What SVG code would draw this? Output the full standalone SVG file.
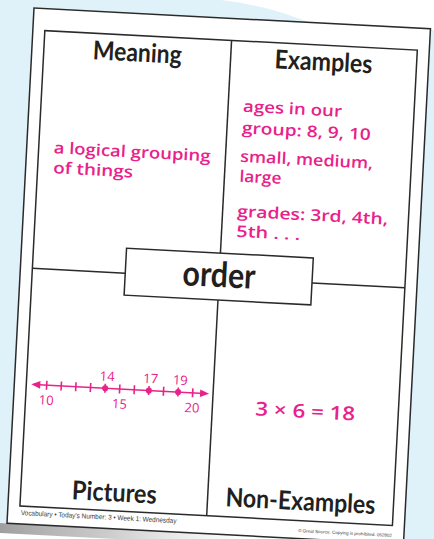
<svg xmlns="http://www.w3.org/2000/svg" width="434" height="539" viewBox="0 0 434 539">
<defs>
<style>
.hd{font-family:Lato,"Open Sans","Liberation Sans",sans-serif;font-weight:700;fill:#231f20;text-anchor:middle}
.pk{font-family:"Open Sans","DejaVu Sans",sans-serif;font-weight:600;fill:#e8218b}
.num{font-family:"Open Sans","DejaVu Sans",sans-serif;font-weight:500;fill:#e8218b;text-anchor:middle;font-size:13px}
.ln{stroke:#2a2a2a;stroke-width:1.5;fill:none}
.nl{stroke:#e8218b;stroke-width:1.6;fill:none}
.ft{font-family:"Liberation Sans",Arial,sans-serif;fill:#3a3a3a}
</style>
<linearGradient id="sh" x1="0" y1="0" x2="1" y2="0">
<stop offset="0" stop-color="#8e8e8e"/>
<stop offset="0.5" stop-color="#b5b5b5" stop-opacity="0.7"/>
<stop offset="1" stop-color="#cfcfcf" stop-opacity="0"/>
</linearGradient>
</defs>
<rect width="434" height="539" fill="#dff1f9"/>
<path d="M221,0 C255,4 287,13 313,24 L434,30 L434,0 Z" fill="#ffffff"/>
<g transform="translate(34,8) rotate(3)">
  <rect x="-40" y="516" width="437" height="60" fill="#ffffff"/>
  <rect x="-40" y="516" width="280" height="10" fill="url(#sh)"/>
  <rect id="page" x="0" y="0" width="397" height="516" fill="#ffffff" stroke="#2a2a2a" stroke-width="1.5"/>
  <rect id="frame" x="12" y="22" width="373" height="476" class="ln"/>
  <g id="connectors" class="ln">
    <line x1="199" y1="22" x2="199" y2="235"/>
    <line x1="199" y1="282" x2="199" y2="498"/>
    <line x1="12" y1="260" x2="105" y2="260"/>
    <line x1="292" y1="260" x2="385" y2="260"/>
  </g>
  <g id="meaning">
    <text class="hd" x="105.5" y="48" font-size="26" textLength="89" lengthAdjust="spacingAndGlyphs">Meaning</text>
    <text class="pk" x="27" y="144" font-size="16" textLength="157" lengthAdjust="spacingAndGlyphs">a logical grouping</text>
    <text class="pk" x="27.5" y="164" font-size="16" textLength="80" lengthAdjust="spacingAndGlyphs">of things</text>
  </g>
  <g id="examples">
    <text class="hd" x="292" y="47.5" font-size="26" textLength="98" lengthAdjust="spacingAndGlyphs">Examples</text>
    <text class="pk" x="214" y="92.6" font-size="16" textLength="99" lengthAdjust="spacingAndGlyphs">ages in our</text>
    <text class="pk" x="214" y="114.3" font-size="16" textLength="129" lengthAdjust="spacingAndGlyphs">group: 8, 9, 10</text>
    <text class="pk" x="213.7" y="142.7" font-size="16" textLength="133" lengthAdjust="spacingAndGlyphs">small, medium,</text>
    <text class="pk" x="214" y="162.7" font-size="16" textLength="42" lengthAdjust="spacingAndGlyphs">large</text>
    <text class="pk" x="213.6" y="197.8" font-size="16" textLength="151" lengthAdjust="spacingAndGlyphs">grades: 3rd, 4th,</text>
    <text class="pk" x="213.7" y="217.8" font-size="16" textLength="64" lengthAdjust="spacingAndGlyphs">5th . . .</text>
  </g>
  <g id="pictures">
    <polygon points="17,376 26,372.2 26,379.8" fill="#e8218b"/>
    <polygon points="195,376 186,372.2 186,379.8" fill="#e8218b"/>
    <line class="nl" x1="20" y1="376" x2="190" y2="376"/>
    <g class="nl">
      <line x1="32.4" y1="371.5" x2="32.4" y2="380.5"/>
      <line x1="47" y1="371.5" x2="47" y2="380.5"/>
      <line x1="61.6" y1="371.5" x2="61.6" y2="380.5"/>
      <line x1="76.3" y1="371.5" x2="76.3" y2="380.5"/>
      <line x1="90.9" y1="371.5" x2="90.9" y2="380.5"/>
      <line x1="105.5" y1="371.5" x2="105.5" y2="380.5"/>
      <line x1="120.1" y1="371.5" x2="120.1" y2="380.5"/>
      <line x1="134.7" y1="371.5" x2="134.7" y2="380.5"/>
      <line x1="149.4" y1="371.5" x2="149.4" y2="380.5"/>
      <line x1="164" y1="371.5" x2="164" y2="380.5"/>
      <line x1="178.6" y1="371.5" x2="178.6" y2="380.5"/>
    </g>
    <circle cx="90.9" cy="376" r="3" fill="#e8218b"/>
    <circle cx="134.7" cy="376" r="3" fill="#e8218b"/>
    <circle cx="164" cy="376" r="3" fill="#e8218b"/>
    <text class="num" x="32.7" y="395.5">10</text>
    <text class="num" x="106" y="395.5">15</text>
    <text class="num" x="178.6" y="395.5">20</text>
    <text class="num" x="92.4" y="368.5">14</text>
    <text class="num" x="136" y="368.5">17</text>
    <text class="num" x="165.6" y="368.5">19</text>
    <text class="hd" x="105.7" y="488.6" font-size="26" textLength="85" lengthAdjust="spacingAndGlyphs">Pictures</text>
  </g>
  <g id="nonexamples">
    <text class="pk" x="292" y="395.2" font-size="19" text-anchor="middle" textLength="100" lengthAdjust="spacingAndGlyphs" font-weight="500">3 × 6 = 18</text>
    <text class="hd" x="292" y="487.5" font-size="26" textLength="150" lengthAdjust="spacingAndGlyphs">Non-Examples</text>
  </g>
  <g id="order">
    <rect x="105" y="235" width="187" height="47" fill="#ffffff" stroke="#2a2a2a" stroke-width="1.5"/>
    <text class="hd" x="198.8" y="269" font-size="35" textLength="73" lengthAdjust="spacingAndGlyphs">order</text>
  </g>
  <g id="footer">
    <text class="ft" x="13.2" y="507" font-size="7" textLength="156" lengthAdjust="spacingAndGlyphs">Vocabulary • Today's Number: 3 • Week 1: Wednesday</text>
    <text class="ft" x="385" y="509.5" font-size="4.5" text-anchor="end" textLength="94" lengthAdjust="spacingAndGlyphs">© Great Source. Copying is prohibited. 052802</text>
  </g>
</g>
</svg>
